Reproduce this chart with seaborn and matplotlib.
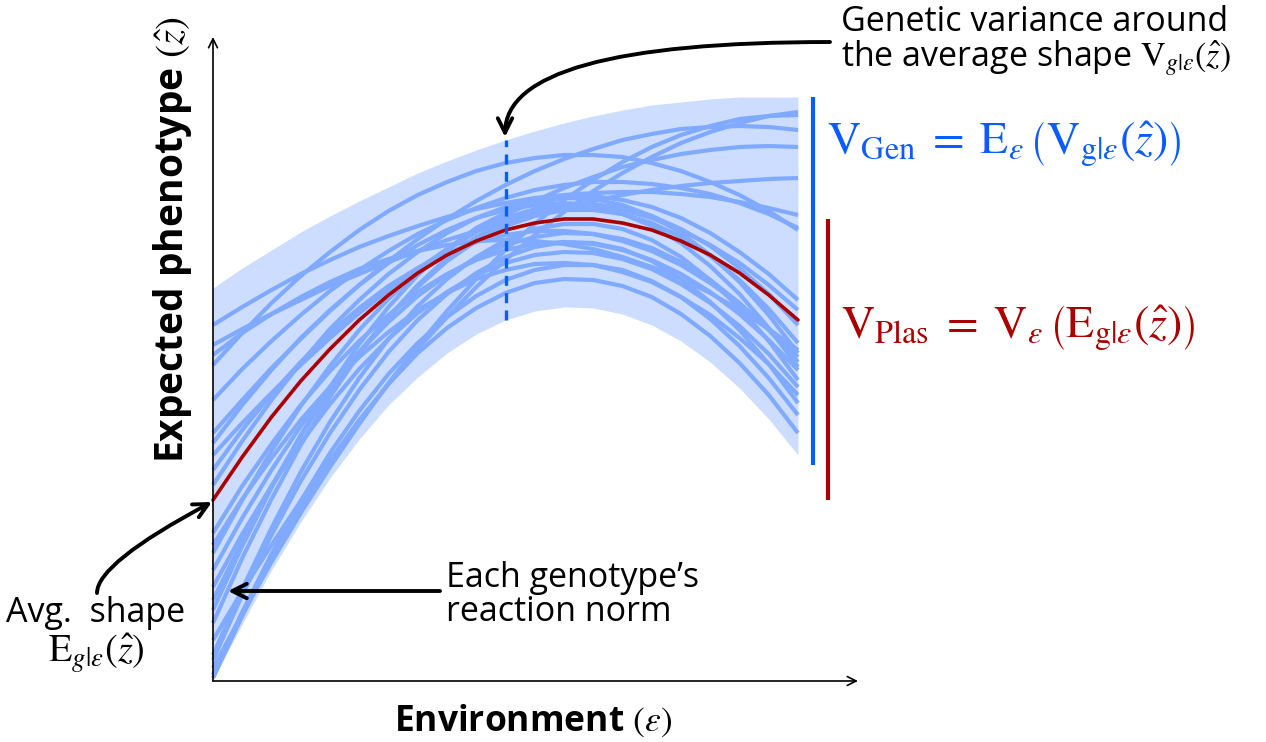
import numpy as np
import pandas as pd
import matplotlib
matplotlib.use("Agg")
import matplotlib.pyplot as plt
import seaborn as sns

# ---------------- data (phenotype in arbitrary units, environment 0..1) -------------
environment = [0.0, 0.05, 0.1, 0.15, 0.2, 0.25, 0.3, 0.35, 0.4, 0.45, 0.5,
               0.55, 0.6, 0.65, 0.7, 0.75, 0.8, 0.85, 0.9, 0.95, 1.0]

reaction_norms = [
    [41, 90, 136, 180, 221, 260, 297, 332, 364, 394, 421, 446, 469, 490, 508, 524, 538, 549, 558, 565, 569],
    [13, 67, 119, 168, 214, 257, 298, 335, 370, 402, 431, 457, 481, 501, 519, 534, 546, 555, 562, 565, 566],
    [248, 281, 313, 342, 370, 396, 420, 442, 462, 480, 496, 510, 522, 532, 541, 547, 552, 554, 555, 554, 551],
    [226, 258, 288, 316, 343, 368, 391, 412, 432, 450, 466, 480, 493, 504, 514, 521, 527, 531, 534, 535, 534],
    [336, 352, 367, 381, 395, 407, 419, 430, 441, 450, 459, 467, 474, 480, 486, 491, 495, 498, 500, 502, 503],
    [356, 374, 391, 407, 421, 434, 445, 455, 464, 472, 478, 483, 486, 488, 489, 489, 487, 484, 479, 473, 466],
    [316, 348, 378, 405, 429, 451, 470, 486, 499, 510, 518, 523, 526, 526, 524, 518, 510, 499, 486, 470, 451],
    [281, 312, 340, 366, 390, 411, 430, 447, 461, 473, 483, 491, 496, 499, 499, 497, 493, 487, 478, 467, 453],
    [196, 240, 281, 318, 352, 381, 407, 429, 448, 463, 474, 481, 485, 485, 481, 474, 463, 448, 429, 407, 381],
    [238, 276, 311, 343, 371, 396, 418, 436, 451, 463, 471, 476, 478, 476, 471, 463, 451, 436, 418, 396, 371],
    [128, 181, 230, 275, 315, 351, 382, 409, 431, 449, 463, 472, 477, 477, 473, 465, 452, 435, 413, 387, 356],
    [81, 140, 195, 245, 290, 329, 364, 394, 420, 440, 455, 465, 471, 471, 467, 458, 444, 425, 401, 372, 338],
    [326, 348, 367, 384, 399, 412, 422, 430, 436, 440, 441, 440, 437, 432, 424, 414, 402, 388, 371, 352, 331],
    [71, 135, 193, 246, 294, 337, 374, 406, 432, 453, 468, 478, 483, 482, 476, 465, 448, 426, 399, 366, 328],
    [211, 251, 287, 319, 348, 373, 395, 413, 428, 439, 446, 450, 450, 447, 440, 430, 416, 398, 377, 352, 324],
    [111, 163, 211, 255, 294, 329, 359, 385, 406, 423, 436, 444, 448, 447, 442, 433, 419, 401, 378, 351, 319],
    [58, 123, 182, 236, 284, 327, 364, 396, 423, 444, 459, 469, 474, 473, 467, 455, 438, 415, 387, 353, 314],
    [148, 195, 237, 276, 310, 340, 366, 389, 407, 421, 431, 437, 439, 437, 431, 421, 407, 389, 367, 341, 311],
    [26, 92, 153, 209, 259, 303, 342, 375, 402, 424, 441, 452, 457, 457, 452, 441, 424, 401, 373, 340, 301],
    [94, 147, 195, 238, 277, 312, 342, 368, 389, 406, 418, 426, 429, 428, 422, 412, 397, 378, 355, 327, 294],
    [136, 182, 223, 261, 294, 324, 349, 371, 388, 402, 411, 417, 418, 416, 409, 399, 384, 366, 343, 317, 286],
    [21, 86, 146, 200, 248, 291, 329, 361, 387, 408, 424, 434, 439, 438, 432, 420, 402, 379, 351, 317, 278],
    [6, 69, 127, 180, 228, 270, 307, 338, 364, 385, 401, 411, 416, 416, 411, 400, 384, 362, 335, 303, 266],
    [3, 65, 122, 174, 220, 261, 297, 328, 353, 373, 388, 398, 402, 401, 395, 384, 367, 345, 318, 286, 248],
]

average_shape = [181, 224, 264, 300, 332, 361, 386, 408, 426, 440, 451,
                 458, 462, 462, 458, 451, 440, 426, 408, 386, 361]
band_upper = [393, 413, 431, 449, 465, 480, 494, 508, 520, 531, 541,
              550, 558, 565, 571, 576, 579, 582, 584, 584, 584]
band_lower = [2, 57, 111, 159, 203, 242, 276, 304, 328, 347, 361,
              370, 374, 373, 367, 356, 340, 319, 293, 262, 226]

gen_bar = [216, 584]          # extent of V_Gen bar
probe_env = 0.5               # environment of the dashed variance probe

# ---------------- styling -------------
sns.set_theme(style="white")
plt.rcParams["font.family"] = ["Open Sans", "DejaVu Sans"]
plt.rcParams["mathtext.fontset"] = "stix"
plt.rcParams["text.color"] = "black"

LIGHT = "#80aaff"
BAND = "#ccddff"
BLUE = "#0a5cff"
RED = "#aa0000"

fig = plt.figure(figsize=(12.66, 7.42), dpi=100)
ax = fig.add_axes([0, 0, 1, 1])


def X(px):
    return (px - 213) / 585


def Y(py):
    return 681 - py


# band
ax.fill_between(environment, band_lower, band_upper, color=BAND, lw=0, zorder=1)

# genotype reaction norms
rows = []
for g, vals in enumerate(reaction_norms):
    for e, v in zip(environment, vals):
        rows.append({"genotype": g, "environment": e, "phenotype": v})
df = pd.DataFrame(rows)
sns.lineplot(data=df, x="environment", y="phenotype", units="genotype",
             estimator=None, color=LIGHT, lw=3.0, ax=ax, zorder=2,
             solid_capstyle="butt")

# average shape
avg_df = pd.DataFrame({"environment": environment, "phenotype": average_shape})
sns.lineplot(data=avg_df, x="environment", y="phenotype", color=RED, lw=2.6,
             ax=ax, zorder=3)

ax.set_xlim(-213 / 585, 1053 / 585)
ax.set_ylim(-61, 681)
ax.axis("off")

# dashed probe
i_probe = environment.index(probe_env)
ax.plot([probe_env, probe_env], [band_lower[i_probe], band_upper[i_probe]],
        color=BLUE, lw=2.4, ls=(0, (3, 2.2)), zorder=4)

# variance bars
ax.plot([X(813), X(813)], gen_bar, color=BLUE, lw=3.0, solid_capstyle="butt")
ax.plot([X(828), X(828)], [min(average_shape), max(average_shape)], color=RED,
        lw=3.0, solid_capstyle="butt")

# axes arrows
ax_arrow = dict(arrowstyle="->", lw=1.2, color="black", shrinkA=0, shrinkB=0,
                mutation_scale=16)
ax.annotate("", xy=(X(858), 0), xytext=(0, 0), arrowprops=ax_arrow)
ax.annotate("", xy=(0, Y(37)), xytext=(0, 0), arrowprops=ax_arrow)

# callout arrows
ca = dict(arrowstyle="->", lw=2.8, color="black", shrinkA=0, shrinkB=0,
          mutation_scale=26)
ax.annotate("", xy=(X(505), Y(137)), xytext=(X(830), Y(42)),
            arrowprops=dict(ca, connectionstyle="angle3,angleA=0,angleB=90"))
ax.annotate("", xy=(X(212), Y(502)), xytext=(X(97), Y(593)),
            arrowprops=dict(ca, connectionstyle="angle3,angleA=90,angleB=28"))
ax.annotate("", xy=(X(228), Y(591)), xytext=(X(440), Y(591)),
            arrowprops=ca)

# texts
FS = 24.5
ax.text(X(841), Y(31), "Genetic variance around", fontsize=FS, va="baseline")
ax.text(X(841), Y(66), r"the average shape $\mathrm{V}_{g|\varepsilon}(\hat{z})$",
        fontsize=FS, va="baseline")
ax.text(X(827), Y(154),
        r"$\mathrm{V}_{\mathrm{Gen}}\;=\;\mathrm{E}_{\varepsilon}\,\left(\mathrm{V}_{\mathrm{g}|\varepsilon}(\hat{z})\right)$",
        fontsize=33, color=BLUE, va="baseline")
ax.text(X(841), Y(338),
        r"$\mathrm{V}_{\mathrm{Plas}}\;=\;\mathrm{V}_{\varepsilon}\,\left(\mathrm{E}_{\mathrm{g}|\varepsilon}(\hat{z})\right)$",
        fontsize=33, color=RED, va="baseline")
ax.text(X(96), Y(622), "Avg.  shape", fontsize=FS, ha="center", va="baseline")
ax.text(X(96), Y(662), r"$\mathrm{E}_{g|\varepsilon}(\hat{z})$", fontsize=FS + 3,
        ha="center", va="baseline")
ax.text(X(446), Y(587), "Each genotype\u2019s", fontsize=FS, va="baseline")
ax.text(X(446), Y(621), "reaction norm", fontsize=FS, va="baseline")
ax.text(X(533), Y(731), r"Environment $(\varepsilon)$", fontsize=25.5,
        fontweight="bold", ha="center", va="baseline")
ax.text(X(172), Y(240), r"Expected phenotype $(\hat{z})$", fontsize=28,
        fontweight="bold", rotation=90, ha="center", va="center")

fig.savefig("out.png", dpi=100)
